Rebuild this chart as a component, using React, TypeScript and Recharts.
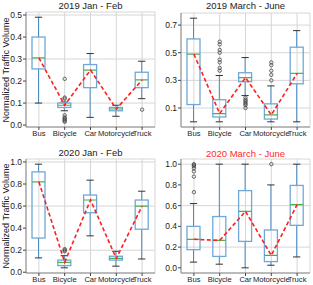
import React from "react";
import {
  ComposedChart,
  Bar,
  Line,
  XAxis,
  YAxis,
  CartesianGrid,
} from "recharts";

// ─── Data ─────────────────────────────────────────────────────────────────────

const CATEGORIES = ["Bus", "Bicycle", "Car", "Motorcycle", "Truck"];

// each box: [lower whisker, Q1, median, Q3, upper whisker]
const BOX_2019_JAN_FEB = [
  [0.1, 0.255, 0.305, 0.4, 0.49],
  [0.065, 0.08, 0.09, 0.1, 0.105],
  [0.035, 0.17, 0.25, 0.275, 0.325],
  [0.04, 0.065, 0.073, 0.08, 0.09],
  [0.12, 0.17, 0.205, 0.24, 0.29],
];
const OUT_2019_JAN_FEB = [
  [],
  [0.21, 0.125, 0.12, 0.045, 0.035, 0.03, 0.025, 0.02, 0.015],
  [],
  [],
  [0.07],
];

const BOX_2019_MAR_JUN = [
  [0.0, 0.125, 0.49, 0.6, 0.75],
  [0.0, 0.035, 0.06, 0.16, 0.335],
  [0.19, 0.29, 0.32, 0.355, 0.465],
  [0.0, 0.02, 0.05, 0.13, 0.26],
  [0.0, 0.275, 0.35, 0.54, 0.66],
];
const OUT_2019_MAR_JUN = [
  [],
  [0.58, 0.56, 0.52, 0.5, 0.45, 0.43, 0.39, 0.37],
  [0.175, 0.16, 0.15, 0.14, 0.13, 0.12, 0.1],
  [0.43, 0.41, 0.37, 0.34, 0.3],
  [],
];

const BOX_2020_JAN_FEB = [
  [0.13, 0.31, 0.82, 0.91, 0.98],
  [0.04, 0.06, 0.09, 0.11, 0.15],
  [0.33, 0.54, 0.655, 0.7, 0.835],
  [0.055, 0.11, 0.125, 0.145, 0.19],
  [0.12, 0.39, 0.6, 0.655, 0.735],
];
const OUT_2020_JAN_FEB = [[], [0.21, 0.2, 0.19], [], [], []];

const BOX_2020_MAR_JUN = [
  [0.055, 0.175, 0.275, 0.4, 0.62],
  [0.035, 0.11, 0.265, 0.495, 1.0],
  [0.0, 0.255, 0.545, 0.745, 1.0],
  [0.025, 0.06, 0.12, 0.365, 0.8],
  [0.105, 0.41, 0.61, 0.795, 1.0],
];
const OUT_2020_MAR_JUN = [
  [1.0, 0.99, 0.98, 0.96, 0.93, 0.88, 0.73],
  [],
  [],
  [1.0],
  [],
];

const TICKS_2019_JAN_FEB = [0, 0.1, 0.2, 0.3, 0.4, 0.5];
const TICKS_2019_MAR_JUN = [0, 0.1, 0.2, 0.3, 0.4, 0.5, 0.6, 0.7];
const TICKS_2020 = [0, 0.2, 0.4, 0.6, 0.8, 1.0];

// ─── Styles ───────────────────────────────────────────────────────────────────

const FONT = "'Liberation Sans', Arial, sans-serif";
const BOX_COLOR = "#6fa8d6";
const WHISKER_COLOR = "#4a8bc2";
const CAP_COLOR = "#333";
const MEDIAN_COLOR = "#4cb050";
const FRAME_COLOR = "#8a8a8a";
const GRID_COLOR = "#d6d6d6";
const MAX_OUTLIERS = 9;

function buildRows(boxes: number[][], outliers: number[][]) {
  return CATEGORIES.map((name, i) => {
    const [low, q1, med, q3, high] = boxes[i];
    const row: any = { name, range: [low, high], low, q1, med, q3, high };
    outliers[i].forEach((v, j) => {
      row["o" + j] = v;
    });
    return row;
  });
}

// matplotlib-like 5% padding on the data range
function paddedDomain(boxes: number[][], outliers: number[][]) {
  const all = boxes.flat().concat(outliers.flat());
  const lo = Math.min(...all);
  const hi = Math.max(...all);
  const pad = (hi - lo) * 0.05;
  return [lo - pad, hi + pad];
}

// ─── Box shape drawn from the range bar ───────────────────────────────────────

function BoxShape(props: any) {
  const { x, y, width, height, payload } = props;
  if (x == null || y == null || !payload) return null;
  const top = Math.min(y, y + height);
  const bot = Math.max(y, y + height);
  const { low, q1, med, q3, high } = payload;
  const span = high - low || 1;
  const py = (v: number) => bot - ((v - low) / span) * (bot - top);
  const cx = x + width / 2;
  const capHalf = width * 0.28;
  return (
    <g>
      <line x1={cx} x2={cx} y1={py(high)} y2={py(q3)} stroke={WHISKER_COLOR} strokeWidth={1} />
      <line x1={cx} x2={cx} y1={py(q1)} y2={py(low)} stroke={WHISKER_COLOR} strokeWidth={1} />
      <line x1={cx - capHalf} x2={cx + capHalf} y1={py(high)} y2={py(high)} stroke={CAP_COLOR} strokeWidth={1} />
      <line x1={cx - capHalf} x2={cx + capHalf} y1={py(low)} y2={py(low)} stroke={CAP_COLOR} strokeWidth={1} />
      <rect
        x={x}
        y={py(q3)}
        width={width}
        height={Math.max(py(q1) - py(q3), 0.5)}
        fill="none"
        stroke={BOX_COLOR}
        strokeWidth={1.3}
      />
      <line x1={x} x2={x + width} y1={py(med)} y2={py(med)} stroke={MEDIAN_COLOR} strokeWidth={1.2} />
    </g>
  );
}

// ─── One panel ────────────────────────────────────────────────────────────────

interface PanelProps {
  title: string;
  titleColor?: string;
  boxes: number[][];
  outliers: number[][];
  ticks: number[];
  left: number;
  top: number;
  marginTop: number;
  xHeight: number;
  titleY: number;
  showYLabel?: boolean;
}

const W = 160;
const H = 145;
const Y_AXIS_W = 26;
const RIGHT = 5;

function Panel({
  title,
  titleColor = "#222",
  boxes,
  outliers,
  ticks,
  left,
  top,
  marginTop,
  xHeight,
  titleY,
  showYLabel,
}: PanelProps) {
  const data = buildRows(boxes, outliers);
  const domain = paddedDomain(boxes, outliers);
  const plotW = W - Y_AXIS_W - RIGHT;
  const plotH = H - marginTop - xHeight;

  return (
    <div style={{ position: "absolute", left, top, width: W, height: H }}>
      <div
        style={{
          position: "absolute",
          left: Y_AXIS_W - 10,
          width: plotW + 20,
          top: titleY - 6,
          height: 12,
          lineHeight: "12px",
          fontSize: 9.5,
          textAlign: "center",
          color: titleColor,
          fontFamily: FONT,
          whiteSpace: "nowrap",
        }}
      >
        {title}
      </div>
      {showYLabel && (
        <div
          style={{
            position: "absolute",
            left: 6 - 60,
            top: marginTop + plotH / 2 - 6,
            width: 120,
            height: 12,
            lineHeight: "12px",
            fontSize: 9,
            textAlign: "center",
            color: "#222",
            fontFamily: FONT,
            whiteSpace: "nowrap",
            transform: "rotate(-90deg)",
          }}
        >
          Normalized Traffic Volume
        </div>
      )}
      <ComposedChart
        width={W}
        height={H}
        data={data}
        margin={{ top: marginTop, right: RIGHT, bottom: 0, left: 0 }}
        barCategoryGap={0}
        style={{ fontFamily: FONT }}
      >
        <CartesianGrid stroke={GRID_COLOR} strokeWidth={1} />
        <XAxis
          dataKey="name"
          interval={0}
          height={xHeight}
          tickSize={3}
          tickMargin={1}
          tick={{ fontSize: 7.6, fill: "#222" }}
          tickLine={{ stroke: "#444" }}
          axisLine={{ stroke: FRAME_COLOR }}
        />
        <XAxis
          xAxisId="top"
          dataKey="name"
          orientation="top"
          height={0}
          tick={false}
          tickLine={false}
          axisLine={{ stroke: FRAME_COLOR }}
        />
        <YAxis
          type="number"
          domain={domain}
          ticks={ticks}
          allowDataOverflow
          width={Y_AXIS_W}
          tickSize={3}
          tickMargin={1}
          tickFormatter={(v: number) => v.toFixed(1)}
          tick={{ fontSize: 8.5, fill: "#222" }}
          tickLine={{ stroke: "#444" }}
          axisLine={{ stroke: FRAME_COLOR }}
        />
        <YAxis
          yAxisId="right"
          orientation="right"
          width={0}
          domain={[0, 1]}
          tick={false}
          tickLine={false}
          axisLine={{ stroke: FRAME_COLOR }}
        />
        <Bar dataKey="range" barSize={13} shape={<BoxShape />} isAnimationActive={false} />
        {Array.from({ length: MAX_OUTLIERS }, (_, j) => (
          <Line
            key={j}
            dataKey={"o" + j}
            stroke="none"
            dot={{ r: 1.7, fill: "none", stroke: "#444", strokeWidth: 0.8 }}
            activeDot={false}
            isAnimationActive={false}
          />
        ))}
        <Line
          dataKey="med"
          stroke="#ff1f1f"
          strokeWidth={1.6}
          strokeDasharray="4 2.5"
          dot={false}
          activeDot={false}
          isAnimationActive={false}
        />
      </ComposedChart>
    </div>
  );
}

// ─── Main ─────────────────────────────────────────────────────────────────────

export default function App() {
  return (
    <div
      style={{
        position: "absolute",
        left: 0,
        top: 0,
        width: 313,
        height: 285,
        background: "#fff",
        overflow: "hidden",
      }}
    >
      <Panel
        title="2019 Jan - Feb"
        boxes={BOX_2019_JAN_FEB}
        outliers={OUT_2019_JAN_FEB}
        ticks={TICKS_2019_JAN_FEB}
        left={0}
        top={0}
        marginTop={12}
        xHeight={18}
        titleY={6}
        showYLabel
      />
      <Panel
        title="2019 March - June"
        boxes={BOX_2019_MAR_JUN}
        outliers={OUT_2019_MAR_JUN}
        ticks={TICKS_2019_MAR_JUN}
        left={155}
        top={0}
        marginTop={13}
        xHeight={18}
        titleY={6}
      />
      <Panel
        title="2020 Jan - Feb"
        boxes={BOX_2020_JAN_FEB}
        outliers={OUT_2020_JAN_FEB}
        ticks={TICKS_2020}
        left={0}
        top={145}
        marginTop={14}
        xHeight={17}
        titleY={7.5}
        showYLabel
      />
      <Panel
        title="2020 March - June"
        titleColor="#ff2a2a"
        boxes={BOX_2020_MAR_JUN}
        outliers={OUT_2020_MAR_JUN}
        ticks={TICKS_2020}
        left={155}
        top={145}
        marginTop={14}
        xHeight={17}
        titleY={8.5}
      />
    </div>
  );
}
